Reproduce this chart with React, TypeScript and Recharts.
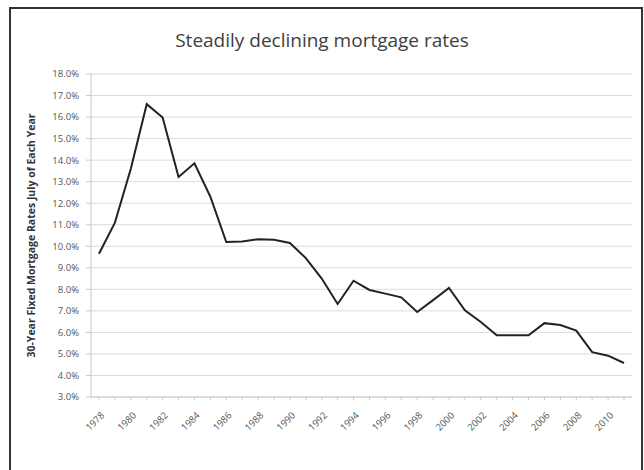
import { CartesianGrid, Label, Line, LineChart, XAxis, YAxis } from 'recharts';

const years = [
  1978, 1979, 1980, 1981, 1982, 1983, 1984, 1985, 1986, 1987, 1988, 1989, 1990, 1991, 1992, 1993, 1994,
  1995, 1996, 1997, 1998, 1999, 2000, 2001, 2002, 2003, 2004, 2005, 2006, 2007, 2008, 2009, 2010, 2011,
];
const rates = [
  9.65, 11.1, 13.6, 16.6, 15.98, 13.22, 13.85, 12.3, 10.2, 10.22, 10.33, 10.3, 10.15, 9.45, 8.5, 7.32,
  8.4, 7.97, 7.8, 7.63, 6.95, 7.5, 8.06, 7.03, 6.48, 5.87, 5.87, 5.87, 6.43, 6.34, 6.08, 5.08, 4.92, 4.58,
];
const yTicks = [3, 4, 5, 6, 7, 8, 9, 10, 11, 12, 13, 14, 15, 16, 17, 18];

const data = years.map((year, i) => ({ year, rate: rates[i] }));

const font = '"Open Sans", "Liberation Sans", sans-serif';

function YearTick(props: any) {
  const { x, y, payload } = props;
  if (payload.value % 2 !== 0) return null;
  return (
    <text
      x={x + 6}
      y={y + 14}
      transform={`rotate(-45, ${x + 6}, ${y + 14})`}
      textAnchor="end"
      fill="#555"
      fontSize={9.5}
      fontFamily={font}
    >
      {payload.value}
    </text>
  );
}

export default function App() {
  return (
    <div style={{ position: 'absolute', left: 0, top: 0, width: 644, height: 470, background: '#fff', overflow: 'hidden' }}>
      <div
        style={{
          position: 'absolute',
          left: 9,
          top: 7,
          width: 634,
          height: 480,
          border: '2.5px solid #333',
          boxSizing: 'border-box',
        }}
      />
      <div
        style={{
          position: 'absolute',
          left: 0,
          top: 27,
          width: 644,
          textAlign: 'center',
          fontFamily: font,
          fontSize: 19,
          color: '#404040',
        }}
      >
        Steadily declining mortgage rates
      </div>
      <div style={{ position: 'absolute', left: 0, top: 0 }}>
        <LineChart width={644} height={470} data={data} margin={{ top: 74, right: 12, left: 0, bottom: 0 }}>
          <CartesianGrid stroke="#dcdcdc" vertical={false} />
          <XAxis
            dataKey="year"
            height={73}
            interval={0}
            tick={<YearTick />}
            tickSize={3}
            padding={{ left: 8, right: 8 }}
            stroke="#c8c8c8"
          />
          <YAxis
            width={91}
            domain={[3, 18]}
            ticks={yTicks}
            interval={0}
            tickFormatter={(v: number) => `${v.toFixed(1)}%`}
            tick={{ fill: '#555', fontSize: 9.5, fontFamily: font }}
            tickSize={5}
            tickMargin={7}
            stroke="#c8c8c8"
          >
            <Label
              value="30-Year Fixed Mortgage Rates July of Each Year"
              angle={-90}
              position="insideLeft"
              offset={31}
              style={{ textAnchor: 'middle', fontSize: 10.5, fontWeight: 'bold', fill: '#333', fontFamily: font }}
            />
          </YAxis>
          <Line
            type="linear"
            dataKey="rate"
            stroke="#222"
            strokeWidth={2}
            dot={false}
            isAnimationActive={false}
          />
        </LineChart>
      </div>
    </div>
  );
}
